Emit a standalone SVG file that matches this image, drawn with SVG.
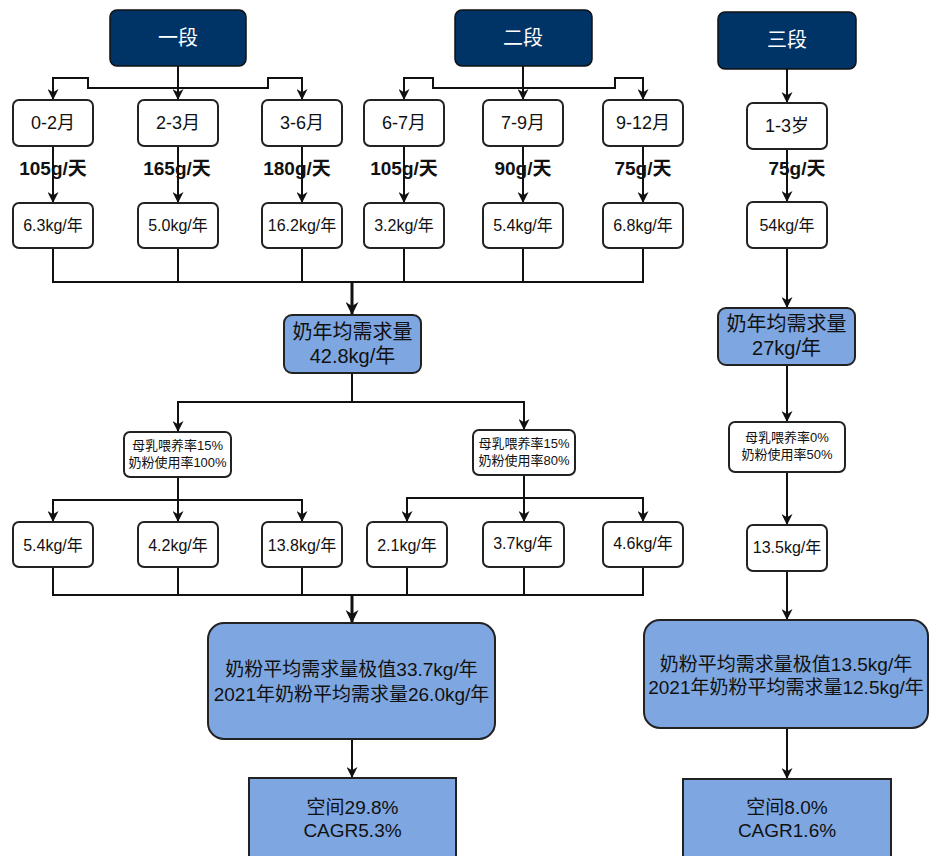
<svg xmlns="http://www.w3.org/2000/svg" width="932" height="856" viewBox="0 0 932 856">
<defs>
<style>
text{font-family:"Liberation Sans",Arial,"Noto Sans CJK SC",sans-serif;fill:#111;text-anchor:middle}
.navy{fill:#003366;stroke:#111;stroke-width:1.5}
.navy-t{fill:#fff;font-size:20px}
.w{fill:#fff;stroke:#222;stroke-width:2}
.b{fill:#7ea6e0;stroke:#222;stroke-width:2}
.m{font-size:18px}
.r{font-size:19px;font-weight:bold}
.k{font-size:16px}
.s{font-size:13px}
.big{font-size:20px}
.x{font-size:19px}
.c{fill:none;stroke:#111;stroke-width:2}
.ct{fill:none;stroke:#111;stroke-width:3}
</style>
<marker id="ar" viewBox="0 0 10 10" refX="10" refY="5" markerWidth="11" markerHeight="11" markerUnits="userSpaceOnUse" orient="auto">
<path d="M0,0 L10,5 L0,10 L3,5 Z" fill="#111"/>
</marker>
<marker id="arb" viewBox="0 0 10 10" refX="10" refY="5" markerWidth="13" markerHeight="13" markerUnits="userSpaceOnUse" orient="auto">
<path d="M0,0 L10,5 L0,10 L3,5 Z" fill="#111"/>
</marker>
</defs>

<g id="connectors">
<path class="c" d="M178,66 V100" marker-end="url(#ar)"/>
<path class="c" d="M178,88 H88 V78 H53 V100" marker-end="url(#ar)"/>
<path class="c" d="M178,88 H268 V78 H302 V100" marker-end="url(#ar)"/>
<path class="c" d="M523,66 V100" marker-end="url(#ar)"/>
<path class="c" d="M523,88 H433 V78 H404 V100" marker-end="url(#ar)"/>
<path class="c" d="M523,88 H615 V78 H643 V100" marker-end="url(#ar)"/>
<path class="c" d="M787,69 V103" marker-end="url(#ar)"/>
<path class="c" d="M53,146 V203" marker-end="url(#ar)"/>
<path class="c" d="M178,146 V203" marker-end="url(#ar)"/>
<path class="c" d="M302,146 V203" marker-end="url(#ar)"/>
<path class="c" d="M404,146 V203" marker-end="url(#ar)"/>
<path class="c" d="M523,146 V203" marker-end="url(#ar)"/>
<path class="c" d="M643,146 V203" marker-end="url(#ar)"/>
<path class="c" d="M787,149 V202" marker-end="url(#ar)"/>
<path class="c" d="M53,248 V282 H643 V248 M178,248 V282 M302,248 V282 M404,248 V282 M523,248 V282"/>
<path class="ct" d="M352,282 V315" marker-end="url(#arb)"/>
<path class="c" d="M787,248 V308" marker-end="url(#ar)"/>
<path class="c" d="M352,373 V402 H178 V432" marker-end="url(#ar)"/>
<path class="c" d="M352,402 H524 V430" marker-end="url(#ar)"/>
<path class="c" d="M787,365 V422" marker-end="url(#ar)"/>
<path class="c" d="M178,477 V522" marker-end="url(#ar)"/>
<path class="c" d="M178,500 H53 V522" marker-end="url(#ar)"/>
<path class="c" d="M178,500 H302 V522" marker-end="url(#ar)"/>
<path class="c" d="M524,475 V522" marker-end="url(#ar)"/>
<path class="c" d="M524,498 H407 V522" marker-end="url(#ar)"/>
<path class="c" d="M524,498 H643 V522" marker-end="url(#ar)"/>
<path class="c" d="M787,472 V525" marker-end="url(#ar)"/>
<path class="c" d="M53,567 V595 H643 V567 M178,567 V595 M302,567 V595 M407,567 V595 M524,567 V595"/>
<path class="ct" d="M352,595 V623" marker-end="url(#arb)"/>
<path class="c" d="M787,571 V620" marker-end="url(#ar)"/>
<path class="c" d="M352,739 V778" marker-end="url(#ar)"/>
<path class="c" d="M787,728 V779" marker-end="url(#ar)"/>
</g>

<g id="labels">
<text class="r" x="53" y="175">105g/天</text>
<text class="r" x="177" y="175">165g/天</text>
<text class="r" x="297" y="175">180g/天</text>
<text class="r" x="404" y="175">105g/天</text>
<text class="r" x="523" y="175">90g/天</text>
<text class="r" x="643" y="175">75g/天</text>
<text class="r" x="797" y="175">75g/天</text>
</g>

<g id="n-stage1"><rect class="navy" x="110" y="10" width="136" height="56" rx="7"/><text class="navy-t" x="178" y="45">一段</text></g>
<g id="n-stage2"><rect class="navy" x="455" y="10" width="137" height="56" rx="7"/><text class="navy-t" x="523" y="45">二段</text></g>
<g id="n-stage3"><rect class="navy" x="718" y="12" width="138" height="57" rx="7"/><text class="navy-t" x="787" y="47">三段</text></g>

<g id="n-m1"><rect class="w" x="13" y="100" width="80" height="46" rx="6"/><text class="m" x="53" y="129">0-2月</text></g>
<g id="n-m2"><rect class="w" x="138" y="100" width="80" height="46" rx="6"/><text class="m" x="178" y="129">2-3月</text></g>
<g id="n-m3"><rect class="w" x="262" y="100" width="80" height="46" rx="6"/><text class="m" x="302" y="129">3-6月</text></g>
<g id="n-m4"><rect class="w" x="364" y="100" width="80" height="46" rx="6"/><text class="m" x="404" y="129">6-7月</text></g>
<g id="n-m5"><rect class="w" x="483" y="100" width="80" height="46" rx="6"/><text class="m" x="523" y="129">7-9月</text></g>
<g id="n-m6"><rect class="w" x="603" y="100" width="80" height="46" rx="6"/><text class="m" x="643" y="129">9-12月</text></g>
<g id="n-y1"><rect class="w" x="747" y="103" width="80" height="46" rx="6"/><text class="m" x="787" y="132">1-3岁</text></g>

<g id="n-k1"><rect class="w" x="13" y="203" width="80" height="45" rx="6"/><text class="k" x="53" y="231">6.3kg/年</text></g>
<g id="n-k2"><rect class="w" x="138" y="203" width="80" height="45" rx="6"/><text class="k" x="178" y="231">5.0kg/年</text></g>
<g id="n-k3"><rect class="w" x="262" y="203" width="80" height="45" rx="6"/><text class="k" x="302" y="231">16.2kg/年</text></g>
<g id="n-k4"><rect class="w" x="364" y="203" width="80" height="45" rx="6"/><text class="k" x="404" y="231">3.2kg/年</text></g>
<g id="n-k5"><rect class="w" x="483" y="203" width="80" height="45" rx="6"/><text class="k" x="523" y="231">5.4kg/年</text></g>
<g id="n-k6"><rect class="w" x="603" y="203" width="80" height="45" rx="6"/><text class="k" x="643" y="231">6.8kg/年</text></g>
<g id="n-k7"><rect class="w" x="747" y="202" width="80" height="46" rx="6"/><text class="k" x="787" y="231">54kg/年</text></g>

<g id="n-avg1"><rect class="b" x="284" y="315" width="137" height="58" rx="8"/><text class="big" x="352.5" y="339">奶年均需求量</text><text class="big" x="352.5" y="363">42.8kg/年</text></g>
<g id="n-avg2"><rect class="b" x="718" y="308" width="137" height="57" rx="8"/><text class="big" x="786.5" y="331">奶年均需求量</text><text class="big" x="786.5" y="355">27kg/年</text></g>

<g id="n-rate1"><rect class="w" x="124" y="432" width="107" height="45" rx="6"/><text class="s" x="177.5" y="450">母乳喂养率15%</text><text class="s" x="177.5" y="467">奶粉使用率100%</text></g>
<g id="n-rate2"><rect class="w" x="473" y="430" width="102" height="45" rx="6"/><text class="s" x="524" y="448">母乳喂养率15%</text><text class="s" x="524" y="465">奶粉使用率80%</text></g>
<g id="n-rate3"><rect class="w" x="729" y="422" width="116" height="50" rx="6"/><text class="s" x="787" y="442">母乳喂养率0%</text><text class="s" x="787" y="459">奶粉使用率50%</text></g>

<g id="n-p1"><rect class="w" x="13" y="522" width="80" height="45" rx="6"/><text class="k" x="53" y="551">5.4kg/年</text></g>
<g id="n-p2"><rect class="w" x="138" y="522" width="80" height="45" rx="6"/><text class="k" x="178" y="551">4.2kg/年</text></g>
<g id="n-p3"><rect class="w" x="262" y="522" width="80" height="45" rx="6"/><text class="k" x="302" y="551">13.8kg/年</text></g>
<g id="n-p4"><rect class="w" x="367" y="522" width="80" height="45" rx="6"/><text class="k" x="407" y="551">2.1kg/年</text></g>
<g id="n-p5"><rect class="w" x="483" y="522" width="81" height="45" rx="6"/><text class="k" x="523" y="549">3.7kg/年</text></g>
<g id="n-p6"><rect class="w" x="603" y="522" width="80" height="45" rx="6"/><text class="k" x="643" y="549">4.6kg/年</text></g>
<g id="n-p7"><rect class="w" x="747" y="525" width="80" height="46" rx="6"/><text class="k" x="787" y="553">13.5kg/年</text></g>

<g id="n-peak1"><rect class="b" x="208" y="623" width="287" height="116" rx="16"/><text class="x" x="351.5" y="676">奶粉平均需求量极值33.7kg/年</text><text class="x" x="351.5" y="701">2021年奶粉平均需求量26.0kg/年</text></g>
<g id="n-peak2"><rect class="b" x="644" y="620" width="284" height="108" rx="16"/><text class="x" x="786" y="671">奶粉平均需求量极值13.5kg/年</text><text class="x" x="786" y="694">2021年奶粉平均需求量12.5kg/年</text></g>

<g id="n-g1"><rect class="b" x="249" y="778" width="207" height="90"/><text class="x" x="352.5" y="814">空间29.8%</text><text class="x" x="352.5" y="837">CAGR5.3%</text></g>
<g id="n-g2"><rect class="b" x="683" y="779" width="208" height="90"/><text class="x" x="787" y="814">空间8.0%</text><text class="x" x="787" y="837">CAGR1.6%</text></g>
</svg>
